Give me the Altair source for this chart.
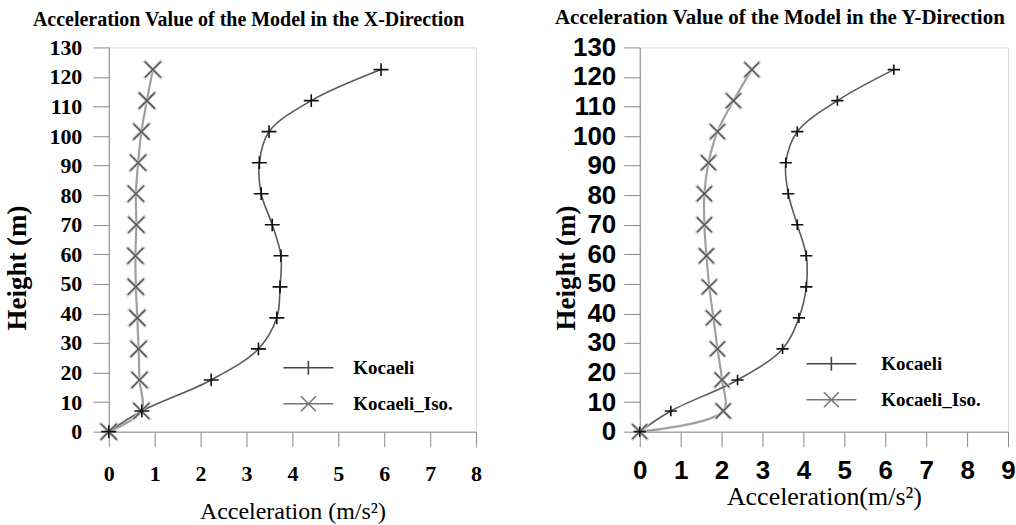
import altair as alt
import pandas as pd

# ---- data ----
heights = [0, 7, 17.5, 28, 38.5, 49, 59.5, 70, 80.5, 91, 101.5, 112, 122.5]

x_kocaeli = [0, 0.72, 2.23, 3.26, 3.66, 3.73, 3.75, 3.56, 3.32, 3.28, 3.49, 4.41, 5.93]
x_iso = [0, 0.71, 0.67, 0.65, 0.62, 0.59, 0.58, 0.60, 0.59, 0.64, 0.71, 0.83, 0.96]

y_kocaeli = [0, 0.76, 2.39, 3.49, 3.89, 4.07, 4.07, 3.85, 3.63, 3.57, 3.85, 4.83, 6.21]
y_iso = [0, 2.04, 2.01, 1.90, 1.80, 1.70, 1.63, 1.58, 1.58, 1.68, 1.90, 2.29, 2.74]

series_labels = ["Kocaeli", "Kocaeli_Iso."]

y_ticks = list(range(0, 131, 10))
x_ticks_left = list(range(0, 9))
x_ticks_right = list(range(0, 10))

PLUS = "M-1,0H1M0,-0.85V0.85"
CROSS = "M-1,-1L1,1M-1,1L1,-1"
LEG_PLUS = "M-2.5,0H2.5M0,-0.7V0.7"
LEG_CROSS = "M-2.5,0H2.5M-0.75,-0.75L0.75,0.75M-0.75,0.75L0.75,-0.75"

K_LINE = "#5a5a5a"
K_MARK = "#111111"
I_LINE = "#a0a0a0"
I_MARK = "#555555"


def make_df(xk, xi):
    rows = []
    for h, v in zip(heights, xk):
        rows.append({"h": h, "a": v, "series": series_labels[0]})
    for h, v in zip(heights, xi):
        rows.append({"h": h, "a": v, "series": series_labels[1]})
    return pd.DataFrame(rows)


def panel(xk, xi, xmax, xticks, title, title_size, title_dx, xtitle,
          tick_font, tick_size, x_label_pad, x_title_size, x_title_pad,
          y_label_pad, y_title_x, width, height, legend_x, legend_y,
          label_offset, plus_size, cross_size):
    df = make_df(xk, xi)
    xenc = alt.X(
        "a:Q",
        scale=alt.Scale(domain=[0, xmax], nice=False, zero=False),
        axis=alt.Axis(
            values=xticks, title=xtitle, grid=False, tickSize=15,
            labelFont=tick_font, labelFontWeight="bold", labelFontSize=tick_size,
            labelPadding=x_label_pad, titleFont="Liberation Serif",
            titleFontWeight="normal", titleFontSize=x_title_size,
            titlePadding=x_title_pad, labelFlush=False,
        ),
    )
    yenc = alt.Y(
        "h:Q",
        scale=alt.Scale(domain=[0, 130], nice=False),
        axis=alt.Axis(
            values=y_ticks, title="Height (m)", grid=False, tickSize=16,
            labelFont=tick_font, labelFontWeight="bold", labelFontSize=tick_size,
            labelPadding=y_label_pad, titleFont="Liberation Serif",
            titleFontWeight="bold", titleFontSize=27, titleX=y_title_x,
            titleY=height / 2 + 28, labelFlush=False,
        ),
    )
    base = alt.Chart(df).encode(x=xenc, y=yenc, order=alt.Order("h:Q"))

    line_k = base.transform_filter(alt.datum.series == series_labels[0]).mark_line(
        interpolate="catmull-rom", color=K_LINE, strokeWidth=1.6)
    line_i = base.transform_filter(alt.datum.series == series_labels[1]).mark_line(
        interpolate="catmull-rom", color=I_LINE, strokeWidth=2.2)
    glow_i = base.transform_filter(alt.datum.series == series_labels[1]).mark_point(
        shape=CROSS, size=cross_size * 1.3, color="#cccccc", strokeWidth=3.5,
        filled=False, opacity=0.8)
    pts_i = base.transform_filter(alt.datum.series == series_labels[1]).mark_point(
        shape=CROSS, size=cross_size, color=I_MARK, strokeWidth=1.5,
        filled=False, opacity=1)
    pts_k = base.transform_filter(alt.datum.series == series_labels[0]).mark_point(
        shape=PLUS, size=plus_size, color=K_MARK, strokeWidth=1.6,
        filled=False, opacity=1)

    legend_layer = base.transform_filter("false").mark_point(
        filled=False, strokeWidth=1.6, opacity=1).encode(
        color=alt.Color(
            "series:N",
            scale=alt.Scale(domain=series_labels, range=["#444444", "#777777"]),
            legend=alt.Legend(
                title=None, orient="none", legendX=legend_x, legendY=legend_y,
                padding=0, labelFont="Liberation Serif", labelFontWeight="bold",
                labelFontSize=19, labelColor="black", symbolSize=400,
                symbolStrokeWidth=1.6, symbolFillColor="transparent",
                rowPadding=14, labelOffset=label_offset, symbolOpacity=1,
            ),
        ),
        shape=alt.Shape(
            "series:N",
            scale=alt.Scale(domain=series_labels, range=[LEG_PLUS, LEG_CROSS]),
        ),
    )

    return alt.layer(line_i, line_k, glow_i, pts_i, pts_k, legend_layer).properties(
        width=width, height=height,
        title=alt.TitleParams(
            text=title, font="Liberation Serif", fontSize=title_size, fontWeight=900,
            anchor="start", frame="bounds", dx=title_dx, color="black", offset=6,
        ),
    )


left = panel(x_kocaeli, x_iso, 8, x_ticks_left,
             "Acceleration Value of the Model in the X-Direction", 20, 29,
             "Acceleration (m/s²)", "Liberation Serif", 22, 17, 24, 15,
             11, -77, 368, 385, 189, 310, 34, 225, 256)
right = panel(y_kocaeli, y_iso, 9, x_ticks_right,
              "Acceleration Value of the Model in the Y-Direction", 21, 2,
              "Acceleration(m/s²)", "Liberation Sans", 26, 11, 26, 0,
              8, -59, 369, 385, 181, 306, 39, 150, 220)

chart = alt.hconcat(left, right, spacing=70).resolve_scale(
    color="independent", shape="independent"
).resolve_legend(color="independent", shape="independent").properties(
    padding={"left": 3, "top": 6, "right": 0, "bottom": 2}
).configure_view(stroke="black", strokeWidth=1.5).configure_axis(
    domainColor="black", domainWidth=1.5, tickColor="black", tickWidth=1.5,
    labelColor="black", titleColor="black",
).configure(background="white")

chart.save("out.html", embed_options={"renderer": "svg", "actions": False})
